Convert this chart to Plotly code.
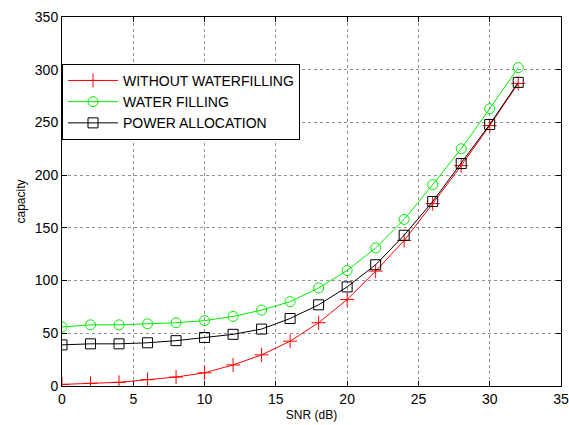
import plotly.graph_objects as go

snr_db = [0, 2, 4, 6, 8, 10, 12, 14, 16, 18, 20, 22, 24, 26, 28, 30, 32]
without_waterfilling = [1.5, 2.5, 3.5, 6, 8.5, 12.5, 20, 29.5, 42.5, 60, 82, 109, 138, 173, 209, 247, 287]
water_filling = [56, 58, 58, 59, 60, 62, 66, 72, 80, 93, 109.5, 131, 158, 191, 225, 263, 302]
power_allocation = [39, 40, 40, 41, 43, 46, 49, 54, 64, 77, 94, 115, 143, 175, 211, 248, 288]

x_ticks = [0, 5, 10, 15, 20, 25, 30, 35]
y_ticks = [0, 50, 100, 150, 200, 250, 300, 350]

FONT = "Liberation Sans, Arial, sans-serif"

fig = go.Figure()
fig.add_trace(go.Scatter(
    x=snr_db, y=without_waterfilling, name="WITHOUT WATERFILLING",
    mode="lines+markers",
    line=dict(color="#ff0000", width=1),
    marker=dict(symbol="cross-thin", size=10, line=dict(color="#ff0000", width=1)),
))
fig.add_trace(go.Scatter(
    x=snr_db, y=water_filling, name="WATER FILLING",
    mode="lines+markers",
    line=dict(color="#00ee00", width=1),
    marker=dict(symbol="circle-open", size=10, color="#00ee00", line=dict(width=1)),
))
fig.add_trace(go.Scatter(
    x=snr_db, y=power_allocation, name="POWER ALLOCATION",
    mode="lines+markers",
    line=dict(color="#000000", width=1),
    marker=dict(symbol="square-open", size=10, color="#000000", line=dict(width=1)),
))

axis_common = dict(
    showline=True, linecolor="black", linewidth=1, mirror="ticks",
    ticks="inside", ticklen=5, tickcolor="black",
    showgrid=True, gridcolor="#909090", griddash="dot", gridwidth=1,
    zeroline=False, automargin=False,
    tickfont=dict(family=FONT, size=14, color="black"),
)

fig.update_xaxes(
    range=[0, 35], tickvals=x_ticks,
    title=dict(text="SNR (dB)", font=dict(family=FONT, size=12, color="black"), standoff=4),
    **axis_common,
)
fig.update_yaxes(
    range=[0, 350], tickvals=y_ticks,
    title=dict(text="capacity", font=dict(family=FONT, size=12, color="black"), standoff=6),
    **axis_common,
)

fig.update_layout(
    width=569, height=425,
    margin=dict(l=62, r=8, t=17, b=39, autoexpand=False),
    paper_bgcolor="white", plot_bgcolor="white",
    showlegend=True,
    legend=dict(
        x=0.0, y=0.873, xanchor="left", yanchor="top",
        bgcolor="white", bordercolor="black", borderwidth=1,
        font=dict(family=FONT, size=14, color="black"),
        itemwidth=50, tracegroupgap=0,
    ),
)

fig.write_html("out.html")
